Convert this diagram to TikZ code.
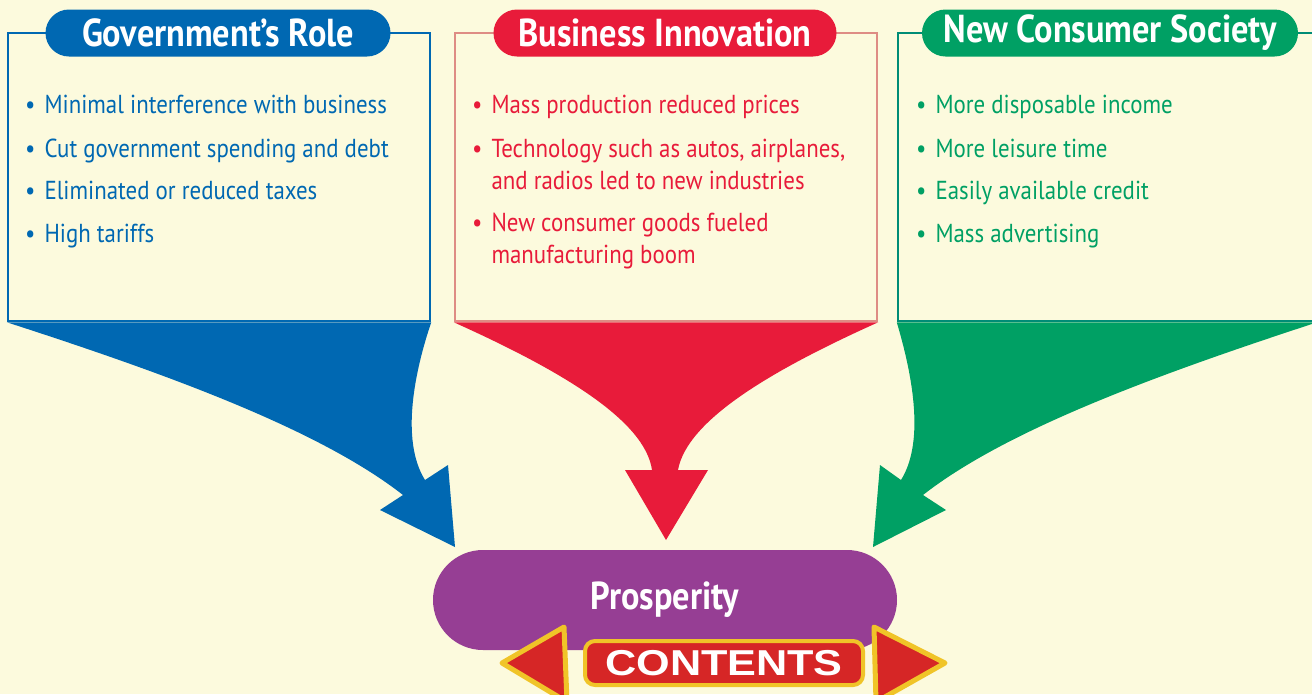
\documentclass[tikz,border=0pt]{standalone}
\usepackage{fontspec}
\setmainfont{PT Sans}[FakeStretch=0.88]
\newfontfamily\btnfont{Liberation Sans}[FakeStretch=1.2]
\usetikzlibrary{shapes.misc}

\definecolor{cream}{RGB}{252,250,221}
\definecolor{govblue}{RGB}{0,104,178}
\definecolor{bizred}{RGB}{232,27,58}
\definecolor{bizline}{RGB}{222,140,132}
\definecolor{congreen}{RGB}{0,160,100}
\definecolor{conline}{RGB}{0,140,118}
\definecolor{prosp}{RGB}{150,62,148}
\definecolor{gold}{RGB}{240,196,40}
\definecolor{btnred}{RGB}{214,38,38}

\newcommand{\bul}{\textbullet\hspace{9pt}}
\newcommand{\nobul}{\phantom{\textbullet}\hspace{9pt}}

\tikzset{
  listbox/.style={draw, line width=2.5pt, minimum width=422pt, minimum height=288pt, inner sep=0pt},
  pill/.style={rounded rectangle, fill=#1, text=white, minimum height=47pt, inner sep=0pt,
    font=\fontsize{39}{42}\selectfont\bfseries},
  itemtext/.style={anchor=base west, align=left, inner sep=0pt, font=\fontsize{26}{32}\selectfont},
}

\begin{document}
\begin{tikzpicture}[x=1pt,y=-1pt]
\clip (0,0) rectangle (1312,694);
\fill[cream] (0,0) rectangle (1312,694);

% the three boxes
\node[listbox, draw=govblue] (gov) at (219,177) {};
\node[listbox, draw=bizline] (biz) at (666,177) {};
\node[listbox, draw=conline, minimum width=418pt] (con) at (1107,177) {};

% arrows down to prosperity
\fill[govblue] (gov.south west) -- (gov.south east) .. controls (415,370) and (400,440) .. (425,480) -- (448,465) -- (455,547) -- (380,510) -- (403,495) .. controls (320,430) and (170,375) .. (gov.south west) -- cycle;
\fill[bizred] (biz.south west) -- (biz.south east) .. controls (772,370) and (687,420) .. (678,470) -- (708,470) -- (666,540) -- (625,470) -- (652,470) .. controls (645,420) and (560,370) .. (biz.south west) -- cycle;
\fill[congreen] (con.south west) -- (con.south east) .. controls (1156,375) and (1006,430) .. (923,495) -- (946,510) -- (873,547) -- (880,465) -- (901,480) .. controls (926,440) and (911,370) .. (con.south west) -- cycle;

% headings
\node[pill=govblue, minimum width=345pt] (govhead) at (218,33) {Government’s Role};
\node[pill=bizred, minimum width=343pt] (bizhead) at (665,33) {Business Innovation};
\node[pill=congreen, minimum width=376pt] (conhead) at (1110,33) {New Consumer Society};

% lists
\node[itemtext, text=govblue] (gov1) at (25,113) {\bul Minimal interference with business};
\node[itemtext, text=govblue] (gov2) at (25,157) {\bul Cut government spending and debt};
\node[itemtext, text=govblue] (gov3) at (25,199) {\bul Eliminated or reduced taxes};
\node[itemtext, text=govblue] (gov4) at (25,242) {\bul High tariffs};

\node[itemtext, text=bizred] (biz1) at (472,113) {\bul Mass production reduced prices};
\node[itemtext, text=bizred] (biz2) at (472,189) {\bul Technology such as autos, airplanes,\\\nobul and radios led to new industries};
\node[itemtext, text=bizred] (biz3) at (472,263) {\bul New consumer goods fueled\\\nobul manufacturing boom};

\node[itemtext, text=congreen] (con1) at (916,113) {\bul More disposable income};
\node[itemtext, text=congreen] (con2) at (916,157) {\bul More leisure time};
\node[itemtext, text=congreen] (con3) at (916,199) {\bul Easily available credit};
\node[itemtext, text=congreen] (con4) at (916,242) {\bul Mass advertising};

% result
\node[rounded rectangle, fill=prosp, minimum width=464pt, minimum height=100pt, inner sep=0pt,
  text=white, font=\fontsize{39}{42}\selectfont\bfseries] (pros) at (665,600) {Prosperity};

% contents button
\draw[gold, line width=5pt, fill=btnred, line join=round] (502,663) -- (564,627) -- (567,702) -- cycle;
\draw[gold, line width=5pt, fill=btnred, line join=round] (945,663) -- (874,627) -- (876,702) -- cycle;
\node[draw=gold, line width=4pt, fill=btnred, rounded corners=10pt, minimum width=278pt, minimum height=44pt,
  inner sep=0pt, text=white, font=\btnfont\bfseries\fontsize{36}{38}\selectfont] (toc) at (724,663) {CONTENTS};
\end{tikzpicture}
\end{document}
